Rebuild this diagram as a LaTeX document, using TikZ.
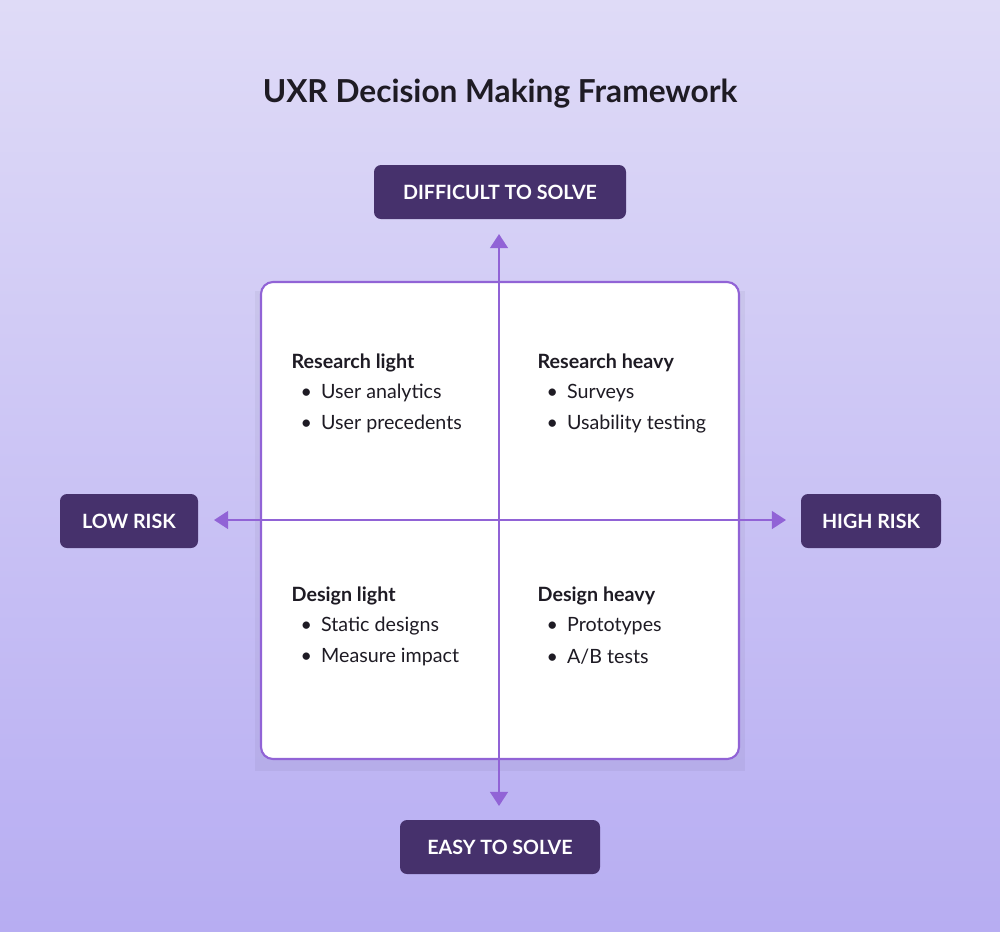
\documentclass[tikz,border=0pt]{standalone}
\usepackage{fontspec}
\setmainfont{Lato}
\usetikzlibrary{arrows.meta}
\definecolor{bgtop}{HTML}{DFDBF7}
\definecolor{bgbot}{HTML}{B7ADF2}
\definecolor{tagfill}{HTML}{46316C}
\definecolor{axis}{HTML}{9163D6}
\definecolor{ink}{HTML}{1E1B24}
\tikzset{
  tag/.style={fill=tagfill,rounded corners=0.07cm,text=white,font=\fontsize{5.6pt}{6pt}\selectfont\bfseries,minimum height=0.54cm,inner sep=0pt},
  head/.style={anchor=west,text=ink,font=\fontsize{5.6pt}{6pt}\selectfont\bfseries,inner sep=0pt},
  item/.style={anchor=west,text=ink,font=\fontsize{5.6pt}{6pt}\selectfont,inner sep=0pt},
  axisline/.style={draw=axis,line width=0.7pt,{Triangle[length=4pt,width=5pt]}-{Triangle[length=4pt,width=5pt]}}
}
\newcommand{\bul}[3]{\node[item] at (#1,#2) {\textbullet\hspace{0.09cm}#3};}
\begin{document}
\begin{tikzpicture}
\shade[top color=bgtop,bottom color=bgbot] (0,0) rectangle (10,9.31);
\useasboundingbox (0,0) rectangle (10,9.31);
\node[text=ink,font=\fontsize{9pt}{10pt}\selectfont\bfseries] (title) at (5,8.37) {UXR Decision Making Framework};
% quadrant box
\fill[black,opacity=0.04] (2.55,1.6) rectangle (7.45,6.4);
\draw[axis,line width=0.6pt,fill=white,rounded corners=0.12cm] (2.61,1.72) rectangle (7.39,6.49);
% axis tags
\node[tag,minimum width=2.52cm] (hard) at (5,7.39) {DIFFICULT TO SOLVE};
\node[tag,minimum width=2.0cm] (easy) at (5,0.84) {EASY TO SOLVE};
\node[tag,minimum width=1.38cm] (low) at (1.29,4.1) {LOW RISK};
\node[tag,minimum width=1.40cm] (high) at (8.71,4.1) {HIGH RISK};
\coordinate (top) at (4.99,6.97);
\coordinate (bot) at (4.99,1.25);
\coordinate (lft) at (2.14,4.11);
\coordinate (rgt) at (7.86,4.11);
\draw[axisline] (top) -- (bot);
\draw[axisline] (lft) -- (rgt);
% quadrant texts
\node[head] (rl) at (2.91,5.68) {Research light};
\bul{3.0}{5.38}{User analytics}
\bul{3.0}{5.07}{User precedents}
\node[head] (rh) at (5.37,5.68) {Research heavy};
\bul{5.46}{5.38}{Surveys}
\bul{5.46}{5.07}{Usability testing}
\node[head] (dl) at (2.91,3.35) {Design light};
\bul{3.0}{3.05}{Static designs}
\bul{3.0}{2.74}{Measure impact}
\node[head] (dh) at (5.37,3.35) {Design heavy};
\bul{5.46}{3.05}{Prototypes}
\bul{5.46}{2.74}{A/B tests}
\end{tikzpicture}
\end{document}
